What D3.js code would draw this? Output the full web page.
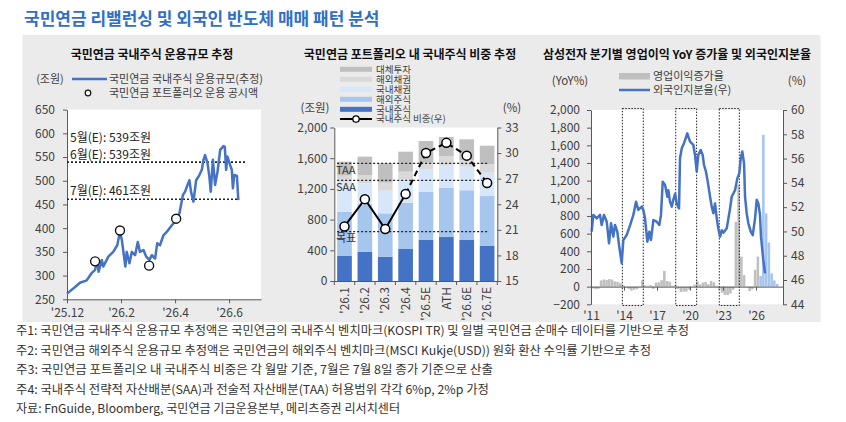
<!DOCTYPE html>
<html>
<head>
<meta charset="utf-8">
<script src="https://cdn.jsdelivr.net/npm/d3@7"></script>
<style>
  body { margin: 0; background: #fff; }
  text { font-family: "Noto Sans CJK KR", "Noto Sans", sans-serif; fill: #404040; }
  .axis path, .axis line { stroke: #595959; }
  .axis text { font-size: 12px; fill: #404040; }
</style>
</head>
<body>
<div id="chart"></div>
<script>
// ---------- data ----------
// left: 국내주식 운용규모 (month index, 0 = '25.12)
const aumMonth = [0, 0.30, 0.48, 0.73, 0.91, 1.04, 1.12, 1.17, 1.29, 1.34, 1.53, 1.71, 1.86, 1.96, 2.03, 2.16, 2.21, 2.31, 2.40, 2.52,
  2.62, 2.70, 2.83, 2.93, 3.05, 3.14, 3.26, 3.34, 3.44, 3.57, 3.69, 3.88, 4.04, 4.16, 4.29, 4.37, 4.46, 4.53, 4.59, 4.68,
  4.78, 4.90, 4.99, 5.05, 5.11, 5.20, 5.27, 5.32, 5.40, 5.48, 5.57, 5.67, 5.79, 5.84, 5.89, 5.94, 6.04, 6.10, 6.14, 6.19, 6.29, 6.34];
const aumValue = [262, 276, 285, 290, 305, 312, 333, 308, 333, 319, 340, 350, 364, 392, 375, 319, 350, 326, 350, 343,
  371, 350, 354, 340, 333, 343, 336, 368, 364, 385, 392, 406, 417, 431, 470, 477, 491, 501, 477, 456,
  501, 512, 523, 544, 554, 537, 508, 477, 544, 491, 519, 565, 573, 572, 523, 551, 533, 523, 484, 512, 510, 459];
const disclosedMonth = [1.04, 1.96, 3.04, 4.04];
const disclosedValue = [330, 395, 321, 420];
const estLabels = ["5월(E): 539조원", "6월(E): 539조원", "7월(E): 461조원"];
const estValue = [539, 539, 461];
const estEndMonth = [6.66, 6.66, 6.34];
const monthTicks = [0, 2, 4, 6];
const monthTickLabels = ["'25.12", "'26.2", "'26.4", "'26.6"];

// middle: 포트폴리오 구성 (조원)
const periods = ["'26.1", "'26.2", "'26.3", "'26.4", "'26.5E", "ATH", "'26.6E", "'26.7E"];
const domesticEquity = [326, 382, 317, 417, 534, 573, 534, 456];
const foreignEquity  = [577, 618, 565, 603, 630, 639, 648, 651];
const domesticBond   = [390, 273, 295, 305, 291, 299, 308, 304];
const foreignBond    = [80, 108, 104, 99, 86, 118, 87, 109];
const alternatives   = [182, 239, 252, 261, 283, 247, 269, 243];
const domesticShare  = [21.4, 24.6, 21.1, 25.2, 30.0, 31.2, 29.7, 26.5];
const bandNames = ["TAA", "SAA", "목표"];
const bandValue = [28.8, 26.8, 20.8];

// right: 삼성전자 영업이익 YoY (분기, 2011Q1 ~ 2026Q1) & 외국인지분율
const opGrowth = [
  -20, -30, -25, 70,   80, 75, 85, 80,   60, 55, 40, 15,   -5, -25, -45, -35,
  -30, -5, 70, 15,     10, 18, -25, 45,  48, 73, 179, 64,  55, 10, 20, -25,
  -60, -56, -56, -34,  3, 23, 59, 26,    46, 54, 28, 64,   50, 11, -32, -69,
  -95, -95, -78, -35,  735, 1150, 340, 130,  -5, -50, -30, 190,  340];
const opForecast = [120, 1720, 830, 500, 150, 70, 30]; // 2026Q2 ~ 2027Q4
const foreignT = [2011.06, 2011.21, 2011.52, 2011.82, 2011.97, 2012.18, 2012.43, 2012.64, 2012.82, 2013.03, 2013.18, 2013.39,
  2013.57, 2013.79, 2013.94, 2014.24, 2014.55, 2014.85, 2015.09, 2015.30, 2015.61, 2015.76, 2015.91, 2016.12, 2016.30,
  2016.45, 2016.67, 2016.97, 2017.21, 2017.36, 2017.52, 2017.73, 2017.94, 2018.03, 2018.18, 2018.34, 2018.48, 2018.64,
  2018.79, 2019.00, 2019.09, 2019.25, 2019.45, 2019.75, 2020.00, 2020.30, 2020.45, 2020.61, 2020.75, 2020.97, 2021.15,
  2021.27, 2021.45, 2021.61, 2021.82, 2021.97, 2022.12, 2022.27, 2022.43, 2022.57, 2022.73, 2022.88, 2023.03, 2023.34,
  2023.64, 2023.79, 2024.09, 2024.30, 2024.48, 2024.61, 2024.75, 2024.91, 2025.00, 2025.15, 2025.30, 2025.52, 2025.70,
  2025.91, 2026.06, 2026.21, 2026.36, 2026.45, 2026.57, 2026.66, 2026.82];
const foreignV = [49.98, 51.36, 51.08, 51.36, 50.53, 51.36, 50.80, 49.02, 50.67, 49.57, 50.53, 49.98,
  48.74, 47.38, 49.30, 49.70, 50.50, 51.36, 52.45, 51.77, 52.04, 51.77, 51.08, 49.16, 49.98,
  49.30, 50.94, 50.80, 50.53, 51.36, 54.10, 53.83, 52.86, 53.40, 52.45, 52.04, 52.60, 53.10,
  52.30, 51.90, 56.03, 56.85, 57.26, 58.08, 57.39, 57.12, 56.30, 54.92, 56.30, 56.71, 56.30,
  55.47, 54.92, 54.10, 52.86, 52.04, 51.50, 52.30, 51.08, 50.26, 49.57, 50.10, 49.90, 50.26,
  51.90, 52.86, 53.40, 54.37, 54.80, 56.03, 56.58, 55.60, 52.86, 51.50, 50.67, 49.98, 49.70,
  51.08, 52.60, 52.30, 51.36, 49.57, 48.47, 47.65, 46.55];
const boxStart = [2013.85, 2018.70, 2022.66];
const boxEnd = [2015.75, 2020.60, 2024.48];
const yearTicks = [2011, 2014, 2017, 2020, 2023, 2026];

const noteLines = [
  "주1: 국민연금 국내주식 운용규모 추정액은 국민연금의 국내주식 벤치마크(KOSPI TR) 및 일별 국민연금 순매수 데이터를 기반으로 추정",
  "주2: 국민연금 해외주식 운용규모 추정액은 국민연금의 해외주식 벤치마크(MSCI Kukje(USD)) 원화 환산 수익률 기반으로 추정",
  "주3: 국민연금 포트폴리오 내 국내주식 비중은 각 월말 기준, 7월은 7월 8일 종가 기준으로 산출",
  "주4: 국내주식 전략적 자산배분(SAA)과 전술적 자산배분(TAA) 허용범위 각각 6%p, 2%p 가정",
  "자료: FnGuide, Bloomberg, 국민연금 기금운용본부, 메리츠증권 리서치센터"
];

// ---------- page ----------
const svg = d3.select("#chart").append("svg")
  .attr("width", 846)
  .attr("height", 422);

svg.append("text")
  .attr("x", 24).attr("y", 24.5)
  .style("font-size", "17px").style("font-weight", "bold").style("fill", "#2e6fc7")
  .text("국민연금 리밸런싱 및 외국인 반도체 매매 패턴 분석");

svg.append("rect")
  .attr("x", 22.5).attr("y", 35).attr("width", 798).attr("height", 287)
  .attr("fill", "#ebebeb");

function chartTitle(x, t) {
  svg.append("text").attr("x", x).attr("y", 59)
    .attr("text-anchor", "middle")
    .style("font-size", "12px").style("font-weight", "bold").style("fill", "#111")
    .text(t);
}

// ===== left chart =====
chartTitle(152, "국민연금 국내주식 운용규모 추정");
const xL = d3.scaleLinear().domain([0, 7.18]).range([67, 261]);
const yL = d3.scaleLinear().domain([250, 650]).range([299.3, 109.6]);

svg.append("rect")
  .attr("x", xL(0)).attr("y", yL(650))
  .attr("width", xL(7.18) - xL(0)).attr("height", yL(250) - yL(650))
  .attr("fill", "#fff");

svg.append("g").attr("class", "axis")
  .attr("transform", `translate(${xL(0)},0)`)
  .call(d3.axisLeft(yL).tickValues(d3.range(250, 651, 50)).tickSize(4).tickSizeOuter(0).tickPadding(8));
svg.append("g").attr("class", "axis")
  .attr("transform", `translate(0,${yL(250)})`)
  .call(d3.axisBottom(xL).tickValues(monthTicks).tickFormat((d, i) => monthTickLabels[i])
    .tickSize(4).tickSizeOuter(0).tickPadding(5));

const left = svg.append("g");
estValue.forEach((v, i) => {
  left.append("line")
    .attr("x1", xL(0)).attr("x2", xL(estEndMonth[i]))
    .attr("y1", yL(v)).attr("y2", yL(v))
    .attr("stroke", "#222").attr("stroke-width", 1.3).attr("stroke-dasharray", "2,2");
});
const estLabelY = [138, 155, 190.7];
estLabels.forEach((t, i) => {
  left.append("text").attr("x", 70).attr("y", estLabelY[i]).attr("dy", "0.35em")
    .style("font-size", "12px").style("fill", "#222").text(t);
});

const aum = aumMonth.map((m, i) => ({ m, v: aumValue[i] }));
left.append("path").datum(aum)
  .attr("fill", "none").attr("stroke", "#4472c4").attr("stroke-width", 2.5)
  .attr("stroke-linejoin", "round")
  .attr("d", d3.line().x(d => xL(d.m)).y(d => yL(d.v)));

left.selectAll("circle.disc").data(disclosedMonth).enter().append("circle")
  .attr("cx", d => xL(d)).attr("cy", (d, i) => yL(disclosedValue[i]))
  .attr("r", 4.5).attr("fill", "#fff").attr("stroke", "#111").attr("stroke-width", 1.4);

// legend
svg.append("text").attr("x", 50).attr("y", 79).attr("dy", "0.35em").attr("text-anchor", "middle")
  .style("font-size", "11px").text("(조원)");
svg.append("line").attr("x1", 72).attr("x2", 107).attr("y1", 79).attr("y2", 79)
  .attr("stroke", "#4472c4").attr("stroke-width", 2.5);
svg.append("text").attr("x", 109).attr("y", 79).attr("dy", "0.35em")
  .style("font-size", "11px").text("국민연금 국내주식 운용규모(추정)");
svg.append("circle").attr("cx", 88).attr("cy", 93).attr("r", 2.8)
  .attr("fill", "#fff").attr("stroke", "#111").attr("stroke-width", 1.2);
svg.append("text").attr("x", 109).attr("y", 93).attr("dy", "0.35em")
  .style("font-size", "11px").text("국민연금 포트폴리오 운용 공시액");

// ===== middle chart =====
chartTitle(410, "국민연금 포트폴리오 내 국내주식 비중 추정");
const xM = d3.scaleBand().domain(periods).range([334.3, 497.3]).paddingInner(0.28).paddingOuter(0.14);
const yM = d3.scaleLinear().domain([0, 2000]).range([281, 127.5]);
const yM2 = d3.scaleLinear().domain([15, 33]).range([281, 127.5]);

svg.append("rect").attr("x", 334.3).attr("y", yM(2000))
  .attr("width", 163).attr("height", yM(0) - yM(2000)).attr("fill", "#fff");

const seriesNames = ["국내주식", "해외주식", "국내채권", "해외채권", "대체투자"];
const seriesColors = ["#4472c4", "#a6c6ee", "#d7e6f8", "#d9d9d9", "#bfbfbf"];
const seriesData = [domesticEquity, foreignEquity, domesticBond, foreignBond, alternatives];
const table = periods.map((p, i) => {
  const row = { period: p };
  seriesNames.forEach((s, k) => row[s] = seriesData[k][i]);
  return row;
});
const stacked = d3.stack().keys(seriesNames)(table);

svg.append("g").selectAll("g").data(stacked).enter().append("g")
  .attr("fill", (d, k) => seriesColors[k])
  .selectAll("rect").data(d => d).enter().append("rect")
  .attr("x", d => xM(d.data.period))
  .attr("width", xM.bandwidth())
  .attr("y", d => yM(d[1]))
  .attr("height", d => yM(d[0]) - yM(d[1]));

bandValue.forEach((v, i) => {
  svg.append("line")
    .attr("x1", xM(periods[0])).attr("x2", xM(periods[7]) + xM.bandwidth() / 2)
    .attr("y1", yM2(v)).attr("y2", yM2(v))
    .attr("stroke", "#222").attr("stroke-width", 1.3).attr("stroke-dasharray", "2,2");
  svg.append("text").attr("x", 336).attr("y", yM2(v) + 7).attr("dy", "0.35em")
    .style("font-size", "11px").style("fill", "#333").text(bandNames[i]);
});

svg.append("path").datum(domesticShare.slice(0, 4))
  .attr("fill", "none").attr("stroke", "#000").attr("stroke-width", 2)
  .attr("d", d3.line().x((d, i) => xM(periods[i]) + xM.bandwidth() / 2).y(d => yM2(d)));
svg.append("path").datum(domesticShare.slice(3))
  .attr("fill", "none").attr("stroke", "#000").attr("stroke-width", 2).attr("stroke-dasharray", "6,4")
  .attr("d", d3.line().x((d, i) => xM(periods[i + 3]) + xM.bandwidth() / 2).y(d => yM2(d)));
svg.append("g").selectAll("circle").data(domesticShare).enter().append("circle")
  .attr("cx", (d, i) => xM(periods[i]) + xM.bandwidth() / 2)
  .attr("cy", d => yM2(d))
  .attr("r", 4.5).attr("fill", "#fff").attr("stroke", "#000").attr("stroke-width", 1.5);

svg.append("g").attr("class", "axis")
  .attr("transform", "translate(334.3,0)")
  .call(d3.axisLeft(yM).tickValues(d3.range(0, 2001, 400)).tickFormat(d3.format(",")).tickSize(4).tickSizeOuter(0).tickPadding(3));
svg.append("g").attr("class", "axis")
  .attr("transform", "translate(497.3,0)")
  .call(d3.axisRight(yM2).tickValues(d3.range(15, 34, 3)).tickSize(4).tickSizeOuter(0).tickPadding(4));
const xAxisM = svg.append("g").attr("class", "axis")
  .attr("transform", `translate(0,${yM(0)})`)
  .call(d3.axisBottom(xM).tickSize(0).tickSizeOuter(0));
xAxisM.selectAll(".tick text")
  .attr("transform", "rotate(-90)")
  .attr("x", -6).attr("y", 0).attr("dy", "0.35em")
  .attr("text-anchor", "end");
const bandEdges = periods.map(p => xM(p) - xM.step() * xM.paddingInner() / 2).concat([497.3]);
bandEdges[0] = 334.3;
svg.append("g").selectAll("line").data(bandEdges).enter().append("line")
  .attr("x1", d => d).attr("x2", d => d).attr("y1", yM(0)).attr("y2", yM(0) + 4)
  .attr("stroke", "#595959");

svg.append("text").attr("x", 315).attr("y", 108).attr("dy", "0.35em").attr("text-anchor", "middle")
  .style("font-size", "11.5px").text("(조원)");
svg.append("text").attr("x", 512).attr("y", 108).attr("dy", "0.35em").attr("text-anchor", "middle")
  .style("font-size", "11.5px").text("(%)");

const legendM = [["대체투자", "#bfbfbf"], ["해외채권", "#d9d9d9"], ["국내채권", "#d7e6f8"], ["해외주식", "#a6c6ee"], ["국내주식", "#4472c4"]];
legendM.forEach((d, i) => {
  const y = 69.3 + i * 10;
  svg.append("rect").attr("x", 340).attr("y", y - 2.5).attr("width", 32).attr("height", 5).attr("fill", d[1]);
  svg.append("text").attr("x", 376).attr("y", y).attr("dy", "0.35em").style("font-size", "9.5px").text(d[0]);
});
svg.append("line").attr("x1", 340).attr("x2", 372).attr("y1", 119).attr("y2", 119)
  .attr("stroke", "#000").attr("stroke-width", 2);
svg.append("circle").attr("cx", 356).attr("cy", 119).attr("r", 3.2)
  .attr("fill", "#fff").attr("stroke", "#000").attr("stroke-width", 1.3);
svg.append("text").attr("x", 376).attr("y", 119).attr("dy", "0.35em").style("font-size", "9.5px").text("국내주식 비중(우)");

// ===== right chart =====
chartTitle(677, "삼성전자 분기별 영업이익 YoY 증가율 및 외국인지분율");
const xR = d3.scaleLinear().domain([2011, 2028.45]).range([591, 783]);
const yR = d3.scaleLinear().domain([-200, 2000]).range([304.3, 110]);
const yR2 = d3.scaleLinear().domain([44, 60]).range([304.3, 110]);

svg.append("rect").attr("x", 591).attr("y", 110)
  .attr("width", 192).attr("height", 194.3).attr("fill", "#fff");

const qw = 0.25;
const grey = opGrowth.map((v, i) => ({ t: 2011 + i * qw, v }));
const fc = opForecast.map((v, i) => ({ t: 2026.25 + i * qw, v }));
const barG = svg.append("g");
barG.selectAll("rect.g").data(grey).enter().append("rect")
  .attr("x", d => xR(d.t + 0.05)).attr("width", xR(2011 + qw) - xR(2011) - 0.2)
  .attr("y", d => yR(Math.max(0, d.v))).attr("height", d => Math.abs(yR(d.v) - yR(0)))
  .attr("fill", "#bfbfbf");
barG.selectAll("rect.f").data(fc).enter().append("rect")
  .attr("x", d => xR(d.t + 0.05)).attr("width", xR(2011 + qw) - xR(2011) - 0.2)
  .attr("y", d => yR(Math.max(0, d.v))).attr("height", d => Math.abs(yR(d.v) - yR(0)))
  .attr("fill", "#a4c5f0");

boxStart.forEach((s, i) => {
  svg.append("rect").attr("x", xR(s)).attr("y", 108.5)
    .attr("width", xR(boxEnd[i]) - xR(s)).attr("height", 197)
    .attr("fill", "none").attr("stroke", "#222").attr("stroke-width", 1).attr("stroke-dasharray", "1.5,1.5");
});

const fo = foreignT.map((t, i) => ({ t, v: foreignV[i] }));
svg.append("path").datum(fo)
  .attr("fill", "none").attr("stroke", "#4472c4").attr("stroke-width", 2.5).attr("stroke-linejoin", "round")
  .attr("d", d3.line().x(d => xR(d.t)).y(d => yR2(d.v)));

svg.append("g").attr("class", "axis")
  .attr("transform", "translate(591,0)")
  .call(d3.axisLeft(yR).tickValues(d3.range(-200, 2001, 200)).tickFormat(d3.format(",")).tickSize(4).tickSizeOuter(0).tickPadding(7));
svg.append("g").attr("class", "axis")
  .attr("transform", "translate(783,0)")
  .call(d3.axisRight(yR2).tickValues(d3.range(44, 61, 2)).tickSize(4).tickSizeOuter(0).tickPadding(4));
svg.append("g").attr("class", "axis")
  .attr("transform", `translate(0,${yR(0)})`)
  .call(d3.axisBottom(xR).tickValues(yearTicks).tickFormat(d => "'" + String(d).slice(2))
    .tickSize(4).tickSizeOuter(0).tickPadding(21));

svg.append("text").attr("x", 570).attr("y", 81).attr("dy", "0.35em").attr("text-anchor", "middle")
  .style("font-size", "11.5px").text("(YoY%)");
svg.append("text").attr("x", 797).attr("y", 81).attr("dy", "0.35em").attr("text-anchor", "middle")
  .style("font-size", "11.5px").text("(%)");
svg.append("rect").attr("x", 619).attr("y", 73).attr("width", 31).attr("height", 6.5).attr("fill", "#bfbfbf");
svg.append("text").attr("x", 653).attr("y", 76).attr("dy", "0.35em").style("font-size", "11px").text("영업이익증가율");
svg.append("line").attr("x1", 619).attr("x2", 650).attr("y1", 90).attr("y2", 90)
  .attr("stroke", "#4472c4").attr("stroke-width", 2.5);
svg.append("text").attr("x", 653).attr("y", 90).attr("dy", "0.35em").style("font-size", "11px").text("외국인지분율(우)");

// ===== notes =====
const noteWidth = [673, 635, 477, 473, 384];
noteLines.forEach((t, i) => {
  svg.append("text").attr("x", 16).attr("y", 331 + i * 19.5).attr("dy", "0.35em")
    .attr("textLength", noteWidth[i]).attr("lengthAdjust", "spacingAndGlyphs")
    .style("font-size", "12px").style("fill", "#333").text(t);
});
</script>
</body>
</html>
